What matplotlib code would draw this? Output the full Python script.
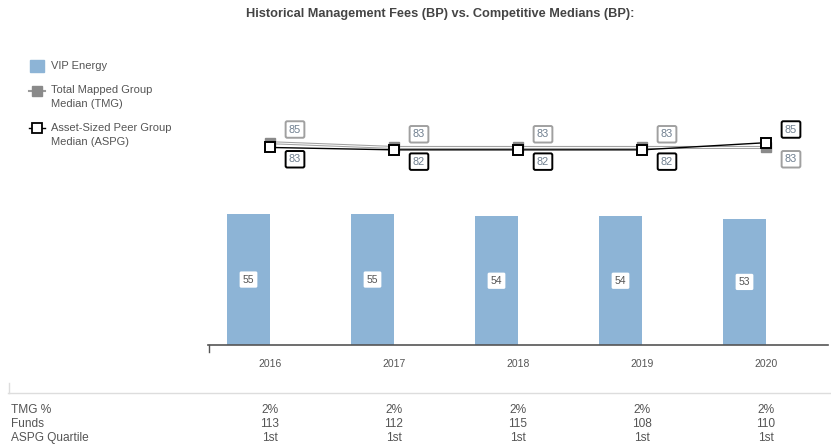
import numpy as np
import matplotlib.pyplot as plt
from matplotlib.lines import Line2D
from matplotlib.patches import Rectangle

years = ["2016", "2017", "2018", "2019", "2020"]
vip = [55, 55, 54, 54, 53]
tmg = [85, 83, 83, 83, 83]
aspg = [83, 82, 82, 82, 85]
tmg_pct = ["2%", "2%", "2%", "2%", "2%"]
funds = ["113", "112", "115", "108", "110"]
quartile = ["1st", "1st", "1st", "1st", "1st"]

W, H = 831, 446
TXT = "#555555"
BAR = "#8db4d6"

plt.rcParams["font.family"] = ["Liberation Sans", "DejaVu Sans"]
fig = plt.figure(figsize=(W / 100, H / 100), dpi=100)

def fx(px):
    return px / W

def fy(py):
    return 1 - py / H

# main axes: x from 208 to 828 px, zero at y=345 px, 2.38 px per unit
top_px = 100
ymax = (345 - top_px) / 2.38
ax = fig.add_axes([fx(208), fy(345), fx(828) - fx(208), (345 - top_px) / H])
ax.set_xlim(-0.5, 4.5)
ax.set_ylim(0, ymax)
x = np.arange(len(years))

bw = 43 / 124
ax.bar(x - bw / 2, vip, width=bw, color=BAR, zorder=2)
for xi, v in zip(x, vip):
    ax.text(xi - bw / 2, v / 2, str(v), ha="center", va="center", fontsize=7.5, color=TXT,
            bbox=dict(boxstyle="round,pad=0.3,rounding_size=0.15", fc="white", ec="none"), zorder=3)

# lines
ax.plot(x, tmg, color="#a0a0a0", lw=2.2, zorder=3, solid_capstyle="butt")
ax.plot(x, tmg, color="white", lw=0.7, zorder=3)
ax.plot(x, tmg, ls="none", marker="s", ms=7.5, mfc="#8a8a8a", mec="#8a8a8a", zorder=4)
ax.plot(x, aspg, color="black", lw=1.0, zorder=5)
ax.plot(x, aspg, ls="none", marker="s", ms=7, mfc="white", mec="black", mew=1.4, zorder=6)

for xi, t, a in zip(x, tmg, aspg):
    t_up = t >= a
    for val, ec, up in ((t, "#a0a0a0", t_up), (a, "black", not t_up)):
        dy = 9.5 if up else -8.5
        ax.annotate(str(val), (xi, val), xytext=(18, dy), textcoords="offset points",
                    ha="center", va="center", fontsize=7.8, color="#6f7f8f",
                    bbox=dict(boxstyle="round,pad=0.3,rounding_size=0.15", fc="white", ec=ec, lw=1.4),
                    zorder=7)

ax.set_xticks(x)
ax.set_xticklabels(years, fontsize=7.5, color=TXT)
ax.tick_params(axis="x", length=0, pad=10)
ax.set_yticks([])
for s in ["top", "right", "left"]:
    ax.spines[s].set_visible(False)
ax.spines["bottom"].set_color("#555555")
ax.spines["bottom"].set_linewidth(1.2)
fig.add_artist(Line2D([fx(208.5), fx(208.5)], [fy(345), fy(352)], color="#555555", lw=1))

# title
fig.text(fx(440), fy(14), "Historical Management Fees (BP) vs. Competitive Medians (BP):",
         ha="center", va="center", fontsize=9.2, fontweight="bold", color="#444444")

# legend
fig.add_artist(Rectangle((fx(30), fy(72)), fx(14), 12 / H, color=BAR))
fig.text(fx(51), fy(66), "VIP Energy", va="center", fontsize=8, color=TXT)
fig.add_artist(Line2D([fx(29), fx(45)], [fy(91), fy(91)], color="#9a9a9a", lw=1.5))
fig.add_artist(Line2D([fx(37)], [fy(91)], marker="s", ms=7, mfc="#8a8a8a", mec="#8a8a8a"))
fig.text(fx(51), fy(90), "Total Mapped Group", va="center", fontsize=8, color=TXT)
fig.text(fx(51), fy(104), "Median (TMG)", va="center", fontsize=8, color=TXT)
fig.add_artist(Line2D([fx(29), fx(45)], [fy(128), fy(128)], color="black", lw=1))
fig.add_artist(Line2D([fx(37)], [fy(128)], marker="s", ms=6.5, mfc="white", mec="black", mew=1.3))
fig.text(fx(51), fy(128), "Asset-Sized Peer Group", va="center", fontsize=8, color=TXT)
fig.text(fx(51), fy(142), "Median (ASPG)", va="center", fontsize=8, color=TXT)

# data table
fig.add_artist(Line2D([fx(8), fx(831)], [fy(393), fy(393)], color="#dddddd", lw=1))
fig.add_artist(Line2D([fx(8.5), fx(8.5)], [fy(383), fy(393)], color="#dddddd", lw=1))
rows = [("TMG %", tmg_pct), ("Funds", funds), ("ASPG Quartile", quartile)]
col_px = [270, 394, 518, 642, 766]
for i, (name, vals) in enumerate(rows):
    y = fy(410 + 14 * i)
    fig.text(fx(11), y, name, va="center", fontsize=8.6, color=TXT)
    for cx, v in zip(col_px, vals):
        fig.text(fx(cx), y, v, ha="center", va="center", fontsize=8.6, color=TXT)

fig.savefig("out.png", dpi=100)
